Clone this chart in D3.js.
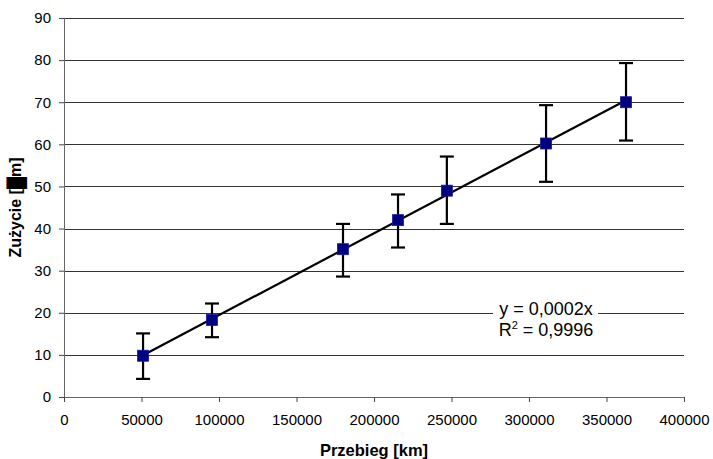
<!DOCTYPE html>
<html>
<head>
<meta charset="utf-8">
<script src="https://cdn.jsdelivr.net/npm/d3@7"></script>
<style>
  body { margin: 0; background: #fff; }
  text { font-family: "Liberation Sans", Arial, sans-serif; }
</style>
</head>
<body>
<script>
// values
var przebieg = [51000, 95500, 180000, 215500, 247000, 311000, 362600];
var zuzycie  = [9.8, 18.3, 35.1, 42.0, 49.0, 60.2, 70.0];
var errTop   = [15.1, 22.2, 41.1, 48.1, 57.1, 69.3, 79.3];
var errBot   = [4.3, 14.2, 28.6, 35.5, 41.1, 51.1, 60.9];
var xTicks = [0, 50000, 100000, 150000, 200000, 250000, 300000, 350000, 400000];
var yTicks = [0, 10, 20, 30, 40, 50, 60, 70, 80, 90];
var trendText = ["y = 0,0002x", "R² = 0,9996"];

var margin = {top: 18, right: 29, bottom: 62, left: 64};
var width = 713 - margin.left - margin.right;
var height = 459 - margin.top - margin.bottom;

var svg = d3.select("body")
  .append("svg")
    .attr("width", 713)
    .attr("height", 459)
  .append("g")
    .attr("transform", "translate(" + margin.left + "," + margin.top + ")");

var x = d3.scaleLinear().domain([0, 400000]).range([0, width]);
var y = d3.scaleLinear().domain([0, 90]).range([height, 0]);

// horizontal grid
svg.append("g").selectAll("line")
  .data(yTicks.slice(1))
  .enter().append("line")
    .attr("x1", 0).attr("x2", width)
    .attr("y1", function(d) { return Math.round(y(d)) + 0.5; })
    .attr("y2", function(d) { return Math.round(y(d)) + 0.5; })
    .attr("stroke", "#333")
    .attr("stroke-width", 1);

// axes
var yAxis = svg.append("g")
  .call(d3.axisLeft(y).tickValues(yTicks).tickSize(5).tickPadding(8));
var xAxis = svg.append("g")
  .attr("transform", "translate(0," + height + ")")
  .call(d3.axisBottom(x).tickValues(xTicks).tickSize(5).tickPadding(12).tickFormat(d3.format("d")));
[xAxis, yAxis].forEach(function(a) {
  a.select(".domain").attr("stroke", "#666");
  a.selectAll(".tick line").attr("stroke", "#444");
  a.selectAll("text").attr("font-size", 15).attr("fill", "#000")
    .attr("font-family", "'Liberation Sans', Arial, sans-serif");
});

// trendline through origin, least squares
var sxy = d3.sum(przebieg, function(d, i) { return d * zuzycie[i]; });
var sxx = d3.sum(przebieg, function(d) { return d * d; });
var slope = sxy / sxx;
var x0 = d3.min(przebieg), x1 = d3.max(przebieg);
svg.append("line")
  .attr("x1", x(x0)).attr("y1", y(slope * x0))
  .attr("x2", x(x1)).attr("y2", y(slope * x1))
  .attr("stroke", "#000")
  .attr("stroke-width", 2.2);

// error bars
var pts = przebieg.map(function(d, i) {
  return {x: d, y: zuzycie[i], hi: errTop[i], lo: errBot[i]};
});
var eb = svg.append("g").selectAll("g")
  .data(pts)
  .enter().append("g")
    .attr("stroke", "#000")
    .attr("stroke-width", 2.2);
eb.append("line")
  .attr("x1", function(d) { return x(d.x); }).attr("x2", function(d) { return x(d.x); })
  .attr("y1", function(d) { return y(d.hi); }).attr("y2", function(d) { return y(d.lo); });
eb.append("line")
  .attr("x1", function(d) { return x(d.x) - 7; }).attr("x2", function(d) { return x(d.x) + 7; })
  .attr("y1", function(d) { return y(d.hi); }).attr("y2", function(d) { return y(d.hi); });
eb.append("line")
  .attr("x1", function(d) { return x(d.x) - 7; }).attr("x2", function(d) { return x(d.x) + 7; })
  .attr("y1", function(d) { return y(d.lo); }).attr("y2", function(d) { return y(d.lo); });

// markers
svg.append("g").selectAll("rect")
  .data(pts)
  .enter().append("rect")
    .attr("x", function(d) { return x(d.x) - 5.5; })
    .attr("y", function(d) { return y(d.y) - 5.5; })
    .attr("width", 11).attr("height", 11)
    .attr("fill", "#000080")
    .attr("stroke", "#1a1a9a")
    .attr("stroke-width", 0.8);

// trendline label
var lx = x(311000), ly = y(20);
svg.append("rect")
  .attr("x", lx - 53).attr("y", ly - 16)
  .attr("width", 105).attr("height", 46)
  .attr("fill", "#fff");
var lab = svg.append("text")
  .attr("x", lx).attr("y", ly + 2)
  .attr("text-anchor", "middle")
  .attr("font-size", 18);
lab.append("tspan").text(trendText[0]);
lab.append("tspan").attr("x", lx).attr("dy", 21).text("R");
lab.append("tspan").attr("dy", -7).attr("font-size", 11).text("2");
lab.append("tspan").attr("dy", 7).text(trendText[1].slice(2));

// axis titles
svg.append("text")
  .attr("x", width / 2).attr("y", height + 59)
  .attr("text-anchor", "middle")
  .attr("font-size", 16.5).attr("font-weight", "bold")
  .text("Przebieg [km]");
var yt = svg.append("text")
  .attr("transform", "translate(" + (-43) + "," + (height / 2) + ") rotate(-90)")
  .attr("text-anchor", "middle")
  .attr("font-size", 16).attr("font-weight", "bold");
yt.append("tspan").text("Zużycie [");
yt.append("tspan").attr("font-size", 17).attr("dy", 1).text("█");
yt.append("tspan").attr("dy", -1).text("m]");
</script>
</body>
</html>
